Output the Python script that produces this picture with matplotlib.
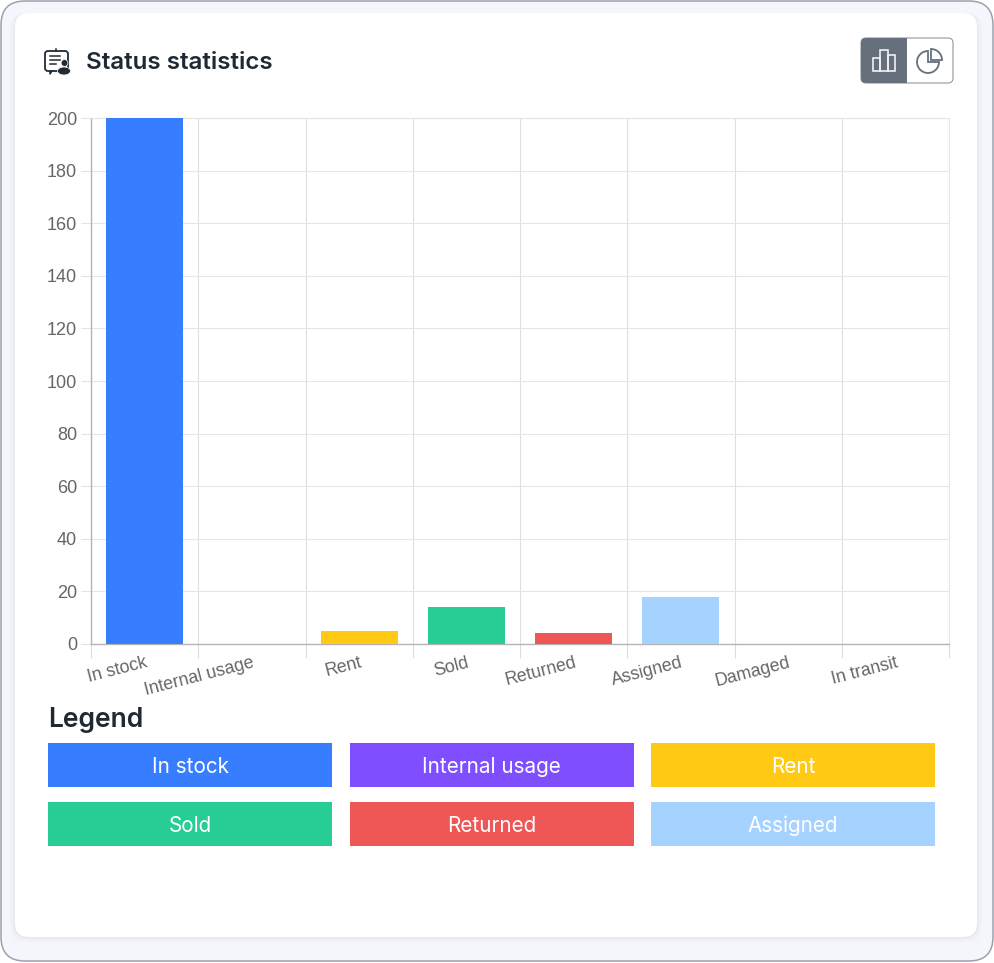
import matplotlib
matplotlib.use("Agg")
import matplotlib.pyplot as plt
from matplotlib.patches import FancyBboxPatch, Rectangle, Wedge, Circle, Ellipse

categories = ["In stock", "Internal usage", "Rent", "Sold", "Returned", "Assigned", "Damaged", "In transit"]
values = [200, 0, 5, 14, 4, 18, 0, 0]
bar_colors = ["#377DFF", "#7F4FFF", "#FFC914", "#27CD95", "#EF5757", "#A6D2FF", "#8A8F98", "#8A8F98"]
y_ticks = list(range(0, 201, 20))
legend_labels = ["In stock", "Internal usage", "Rent", "Sold", "Returned", "Assigned"]
legend_colors = ["#377DFF", "#7F4FFF", "#FFC914", "#27CD95", "#EF5757", "#A6D2FF"]

W, H = 994, 963
plt.rcParams["font.family"] = ["Inter", "DejaVu Sans"]
fig = plt.figure(figsize=(W / 100, H / 100), dpi=100, facecolor="white")

# page layer, in reference pixels
bg = fig.add_axes([0, 0, 1, 1], zorder=0)
bg.set_xlim(0, W)
bg.set_ylim(H, 0)
bg.axis("off")


def rrect(ax, x0, y0, x1, y1, r, **kw):
    p = FancyBboxPatch((x0 + r, y0 + r), x1 - x0 - 2 * r, y1 - y0 - 2 * r,
                       boxstyle=f"round,pad={r},rounding_size={r}", **kw)
    ax.add_patch(p)
    return p


rrect(bg, 1, 1, 993, 961, 24, fc="#F5F6FB", ec="#9AA2AE", lw=1.1)
for grow, alpha in [(5, 0.012), (3, 0.018), (1.5, 0.025)]:
    rrect(bg, 15 - grow, 13, 977 + grow, 937 + grow, 15, fc="#1F2A50", ec="none", alpha=alpha)
rrect(bg, 15, 13, 977, 937, 14, fc="white", ec="none")

# title and its icon
ic = "#212B36"
rrect(bg, 45, 51, 68, 71, 3, fc="none", ec=ic, lw=1.3)
bg.plot([56, 56], [49, 51], color=ic, lw=1.1)
bg.plot([49.5, 60], [56, 56], color=ic, lw=1.1)
bg.plot([49.5, 60], [60, 60], color=ic, lw=1.1)
bg.plot([49.5, 56], [64, 64], color=ic, lw=1.1)
bg.plot([52, 50, 50], [71, 74, 71], color=ic, lw=1.1)
bg.add_patch(Circle((64.5, 63), 3.4, fc=ic, ec="white", lw=0.5, zorder=3))
bg.add_patch(Ellipse((64, 71), 13, 8, fc=ic, ec="white", lw=0.5, zorder=3))
bg.text(86, 63, "Status statistics", fontsize=17.4, fontweight="semibold", color="#1F2933",
        ha="left", va="center")

# chart type switch
btn = "#66707C"
rrect(bg, 861, 38, 953, 83, 5, fc="white", ec="#8F98A3", lw=0.8)
rrect(bg, 861, 38, 880, 83, 5, fc=btn, ec="none")
bg.add_patch(Rectangle((870, 38), 37, 45, fc=btn, ec="none"))
bar_ic = "#F0F1F3"
bg.add_patch(Rectangle((873, 58), 7, 13, fc="none", ec=bar_ic, lw=1.2))
bg.add_patch(Rectangle((880, 50), 8, 21, fc="none", ec=bar_ic, lw=1.2))
bg.add_patch(Rectangle((888, 55), 7, 16, fc="none", ec=bar_ic, lw=1.2))
bg.add_patch(Wedge((928, 62), 11, 0, 270, fc="none", ec=btn, lw=1.3))
bg.add_patch(Wedge((931, 60), 11, 270, 360, fc="none", ec=btn, lw=1.3))

# bar chart
x0, x1, y_top, y_bot = 91, 949, 118, 644
ax = fig.add_axes([x0 / W, 1 - y_bot / H, (x1 - x0) / W, (y_bot - y_top) / H], zorder=1)
ax.patch.set_alpha(0)
positions = list(range(len(categories)))
ax.bar(positions, values, width=0.72, color=bar_colors, zorder=3)
ax.set_xlim(-0.5, len(categories) - 0.5)
ax.set_ylim(0, 200)

ax.set_yticks(y_ticks)
ax.set_yticklabels([str(v) for v in y_ticks], family="Liberation Sans", fontsize=13, color="#666666")
ax.tick_params(axis="y", length=7, width=0.8, color="#E4E4E4", pad=3)

# gridlines sit on the category boundaries, labels on the centres
ax.set_xticks([p - 0.5 for p in positions] + [len(categories) - 0.5])
ax.set_xticklabels([])
ax.tick_params(axis="x", which="major", length=10, width=0.8, color="#DCDCDC")
ax.set_xticks(positions, minor=True)
ax.set_xticklabels(categories, minor=True, family="Liberation Sans", fontsize=12.8, color="#666666",
                   rotation=14.5, ha="right", va="top", rotation_mode="anchor")
ax.tick_params(axis="x", which="minor", length=0, pad=7.5)

ax.grid(True, axis="y", color="#E6E6E6", lw=0.8, zorder=0)
ax.grid(True, axis="x", color="#DEDEDE", lw=0.8, zorder=0)
for side in ["top", "right"]:
    ax.spines[side].set_color("#E6E6E6")
    ax.spines[side].set_linewidth(0.8)
for side in ["left", "bottom"]:
    ax.spines[side].set_color("#B4B4B4")
    ax.spines[side].set_linewidth(1)

# legend blocks
bg.text(48, 720, "Legend", fontsize=19, fontweight="semibold", color="#1F2933", ha="left", va="center")
col_x = [48, 349.5, 651]
row_y = [743, 802]
box_w, box_h = 284, 44
for i, label in enumerate(legend_labels):
    lx = col_x[i % 3]
    ly = row_y[i // 3]
    bg.add_patch(Rectangle((lx, ly), box_w, box_h, fc=legend_colors[i], ec="none"))
    bg.text(lx + box_w / 2, ly + box_h / 2 + 2, label, fontsize=14.9, color="white",
            ha="center", va="center")

fig.savefig("out.png", dpi=100)
